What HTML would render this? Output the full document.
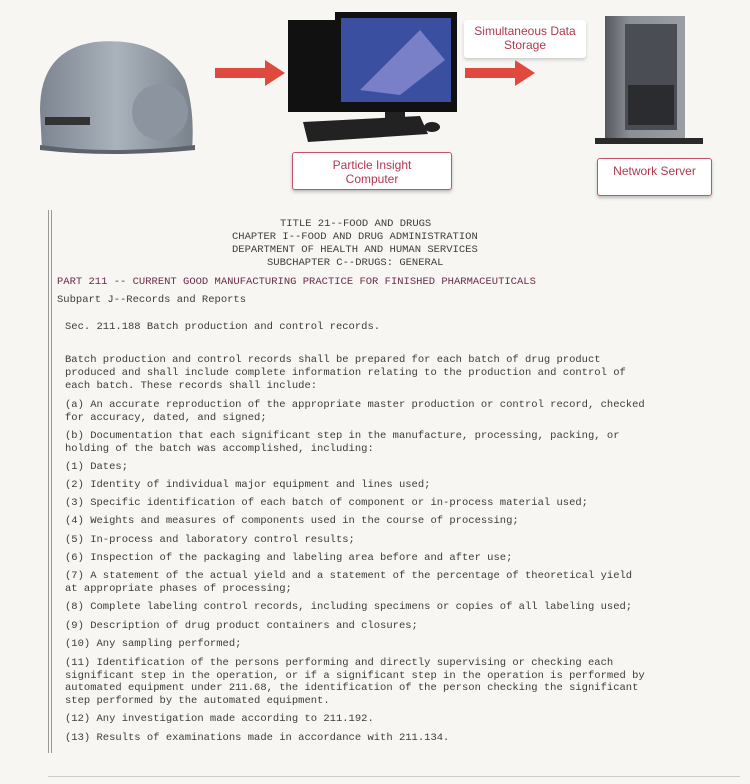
<!DOCTYPE html>
<html><head><meta charset="utf-8"><style>
body{margin:0;width:750px;height:784px;background:#f7f6f2;position:relative;overflow:hidden;font-family:"Liberation Sans",sans-serif}
.t{position:absolute;font-family:"Liberation Mono",monospace;font-size:10.5px;color:#3c3c3c;white-space:pre;line-height:12px}
.p{color:#6a2a4a}
.lab{position:absolute;border:1px solid #c9506a;border-radius:3px;background:#fff;box-shadow:0 2px 3px #bbb;color:#b0384f;font-size:12px;text-align:center;line-height:14px}
</style></head><body>
<svg width="750" height="210" style="position:absolute;left:0;top:0">
<defs><linearGradient id="g" x1="0" x2="1"><stop offset="0" stop-color="#7c8591"/><stop offset=".5" stop-color="#aab2bb"/><stop offset="1" stop-color="#7a828c"/></linearGradient>
<linearGradient id="s" x1="0" x2="1"><stop offset="0" stop-color="#55595f"/><stop offset=".3" stop-color="#8a8f95"/><stop offset="1" stop-color="#9a9fa5"/></linearGradient></defs>
<path d="M42 150 L40 110 Q40 50 95 42 Q160 36 185 80 Q195 110 192 150 Z" fill="url(#g)"/>
<path d="M40 145 Q110 155 195 145 L195 150 Q110 158 40 150Z" fill="#5c636b"/>
<circle cx="160" cy="112" r="28" fill="#8c959f"/>
<rect x="45" y="117" width="45" height="8" fill="#333"/>
<rect x="288" y="20" width="50" height="92" fill="#111"/>
<rect x="335" y="12" width="122" height="100" fill="#111"/>
<rect x="341" y="18" width="110" height="84" fill="#3b4fa0"/>
<path d="M360 90 L420 30 L445 60 L400 95Z" fill="#7a80c8"/>
<rect x="385" y="112" width="20" height="8" fill="#222"/>
<ellipse cx="395" cy="122" rx="22" ry="4" fill="#222"/>
<path d="M303 122 L420 116 L428 134 L308 142Z" fill="#222"/>
<ellipse cx="432" cy="127" rx="8" ry="5" fill="#222"/>
<rect x="605" y="16" width="80" height="122" fill="url(#s)"/>
<rect x="625" y="24" width="52" height="106" fill="#4a4e54"/>
<rect x="628" y="85" width="46" height="40" fill="#2a2c30"/>
<rect x="595" y="138" width="108" height="6" fill="#2a2a2a"/>
<path d="M215 68 H265 V60 L285 73 L265 86 V78 H215Z" fill="#e04a3e"/>
<path d="M465 68 H515 V60 L535 73 L515 86 V78 H465Z" fill="#e04a3e"/>
</svg>
<div class="lab" style="left:464px;top:20px;width:122px;height:38px;border:none;box-shadow:0 2px 3px #ccc;line-height:14px;padding-top:4px;box-sizing:border-box">Simultaneous Data<br>Storage</div>
<div class="lab" style="left:292px;top:152px;width:160px;height:38px;padding-top:5px;box-sizing:border-box">Particle Insight<br>Computer</div>
<div class="lab" style="left:597px;top:158px;width:115px;height:38px;padding-top:5px;box-sizing:border-box">Network Server</div>
<div style="position:absolute;left:48px;top:210px;width:1px;height:543px;background:#999"></div>
<div style="position:absolute;left:51px;top:210px;width:1px;height:543px;background:#999"></div>
<div style="position:absolute;left:48px;top:776px;width:692px;height:1px;background:#ccc"></div>
<div class="t" style="left:280px;top:218px">TITLE 21--FOOD AND DRUGS</div>
<div class="t" style="left:232px;top:231px">CHAPTER I--FOOD AND DRUG ADMINISTRATION</div>
<div class="t" style="left:232px;top:244px">DEPARTMENT OF HEALTH AND HUMAN SERVICES</div>
<div class="t" style="left:267px;top:257px">SUBCHAPTER C--DRUGS: GENERAL</div>
<div class="t p" style="left:57px;top:276px">PART 211 -- CURRENT GOOD MANUFACTURING PRACTICE FOR FINISHED PHARMACEUTICALS</div>
<div class="t" style="left:57px;top:294px">Subpart J--Records and Reports</div>
<div class="t" style="left:65px;top:321px">Sec. 211.188 Batch production and control records.</div>
<div class="t" style="left:65px;top:354px;line-height:13px">Batch production and control records shall be prepared for each batch of drug product
produced and shall include complete information relating to the production and control of
each batch. These records shall include:</div>
<div class="t" style="left:65px;top:399px;line-height:13px">(a) An accurate reproduction of the appropriate master production or control record, checked
for accuracy, dated, and signed;</div>
<div class="t" style="left:65px;top:430px;line-height:13px">(b) Documentation that each significant step in the manufacture, processing, packing, or
holding of the batch was accomplished, including:</div>
<div class="t" style="left:65px;top:461px">(1) Dates;</div>
<div class="t" style="left:65px;top:479px">(2) Identity of individual major equipment and lines used;</div>
<div class="t" style="left:65px;top:497px">(3) Specific identification of each batch of component or in-process material used;</div>
<div class="t" style="left:65px;top:515px">(4) Weights and measures of components used in the course of processing;</div>
<div class="t" style="left:65px;top:534px">(5) In-process and laboratory control results;</div>
<div class="t" style="left:65px;top:552px">(6) Inspection of the packaging and labeling area before and after use;</div>
<div class="t" style="left:65px;top:570px;line-height:13px">(7) A statement of the actual yield and a statement of the percentage of theoretical yield
at appropriate phases of processing;</div>
<div class="t" style="left:65px;top:601px">(8) Complete labeling control records, including specimens or copies of all labeling used;</div>
<div class="t" style="left:65px;top:620px">(9) Description of drug product containers and closures;</div>
<div class="t" style="left:65px;top:638px">(10) Any sampling performed;</div>
<div class="t" style="left:65px;top:657px;line-height:12.5px">(11) Identification of the persons performing and directly supervising or checking each
significant step in the operation, or if a significant step in the operation is performed by
automated equipment under 211.68, the identification of the person checking the significant
step performed by the automated equipment.</div>
<div class="t" style="left:65px;top:713px">(12) Any investigation made according to 211.192.</div>
<div class="t" style="left:65px;top:732px">(13) Results of examinations made in accordance with 211.134.</div>
</body></html>
